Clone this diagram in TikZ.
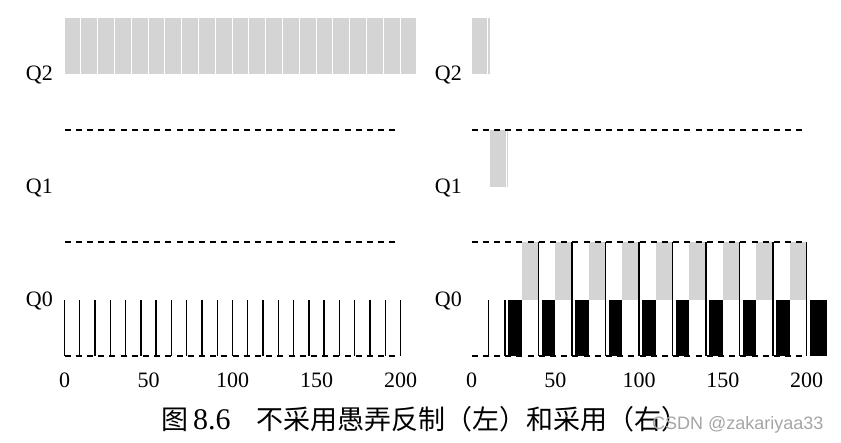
\documentclass[tikz,border=0pt]{standalone}
\usepackage{fontspec}
\setmainfont{Liberation Serif}
\newfontfamily\cjk{Noto Sans CJK SC}
\newfontfamily\marksans{Liberation Sans}
\usetikzlibrary{positioning}
\definecolor{jobgray}{RGB}{212,212,212}
\definecolor{markgray}{RGB}{165,165,165}

\begin{document}
\begin{tikzpicture}[
  x=1pt, y=-1pt,
  qlabel/.style={anchor=base east, inner sep=0pt, font=\fontsize{22}{24}\selectfont},
  tick/.style={anchor=base, inner sep=0pt, font=\fontsize{22}{24}\selectfont},
  caption/.style={anchor=base west, inner sep=0pt},
  sep/.style={line width=1.7pt, dash pattern=on 6pt off 5.2pt},
  slice/.style={fill=jobgray},
  pulse/.style={line width=1.3pt}
]
\useasboundingbox (0,0) rectangle (841,443);
% left: without priority boost
\begin{scope}[xshift=64.5pt, x=1.68pt]
  \foreach \t in {0,10,...,200}
    \fill[slice] (\t,18) rectangle (\t+9.5,74);
  \foreach \i in {0,...,22}
    \draw[pulse] ({\i*200/22},300) -- ({\i*200/22},356);
  \draw[sep] (0,130) -- (200,130);
  \draw[sep] (0,242) -- (200,242);
  \draw[sep] (0,356) -- (200,356);
  \foreach \t in {0,50,...,200}
    \node[tick] (lt\t) at (\t,388) {\t};
\end{scope}
% right: with priority boost
\begin{scope}[xshift=471.5pt, x=1.675pt]
  \fill[slice] (0,18) rectangle (9.5,74);
  \fill[slice] (9.9,18) rectangle (11.3,74);
  \fill[slice] (11,130) rectangle (20.5,187);
  \fill[slice] (20.9,130) rectangle (21.9,187);
  \foreach \t in {20,40,...,180} {
    \fill[slice] (\t+10,242) rectangle (\t+19.5,300);
    \fill (\t+2,300) rectangle (\t+10,356);
  }
  \fill (202,300) rectangle (212,356);
  \draw[pulse] (10,300) -- (10,356);
  \draw[pulse] (20,300) -- (20,356);
  \foreach \t in {40,60,...,200}
    \draw[pulse] (\t,242) -- (\t,356);
  \draw[sep] (0,130) -- (200,130);
  \draw[sep] (0,242) -- (200,242);
  \draw[sep] (0,356) -- (200,356);
  \foreach \t in {0,50,...,200}
    \node[tick] (rt\t) at (\t,388) {\t};
\end{scope}
\node[qlabel] (lq2) at (53,81) {Q2};
\node[qlabel] (lq1) at (53,194) {Q1};
\node[qlabel] (lq0) at (53,307) {Q0};
\node[qlabel] (rq2) at (462,81) {Q2};
\node[qlabel] (rq1) at (462,194) {Q1};
\node[qlabel] (rq0) at (462,307) {Q0};
\node[caption, font=\cjk\fontsize{27}{30}\selectfont] (figno) at (161,430) {图};
\node[caption, font=\fontsize{30}{32}\selectfont] (fignum) at (193,430) {8.6};
\node[caption, font=\cjk\fontsize{27}{30}\selectfont] (figtitle) at (256,430) {不采用愚弄反制（左）和采用（右）};
\node[caption, font=\marksans\fontsize{18}{20}\selectfont, text=markgray] (mark) at (652,430) {CSDN @zakariyaa33};
\end{tikzpicture}
\end{document}
